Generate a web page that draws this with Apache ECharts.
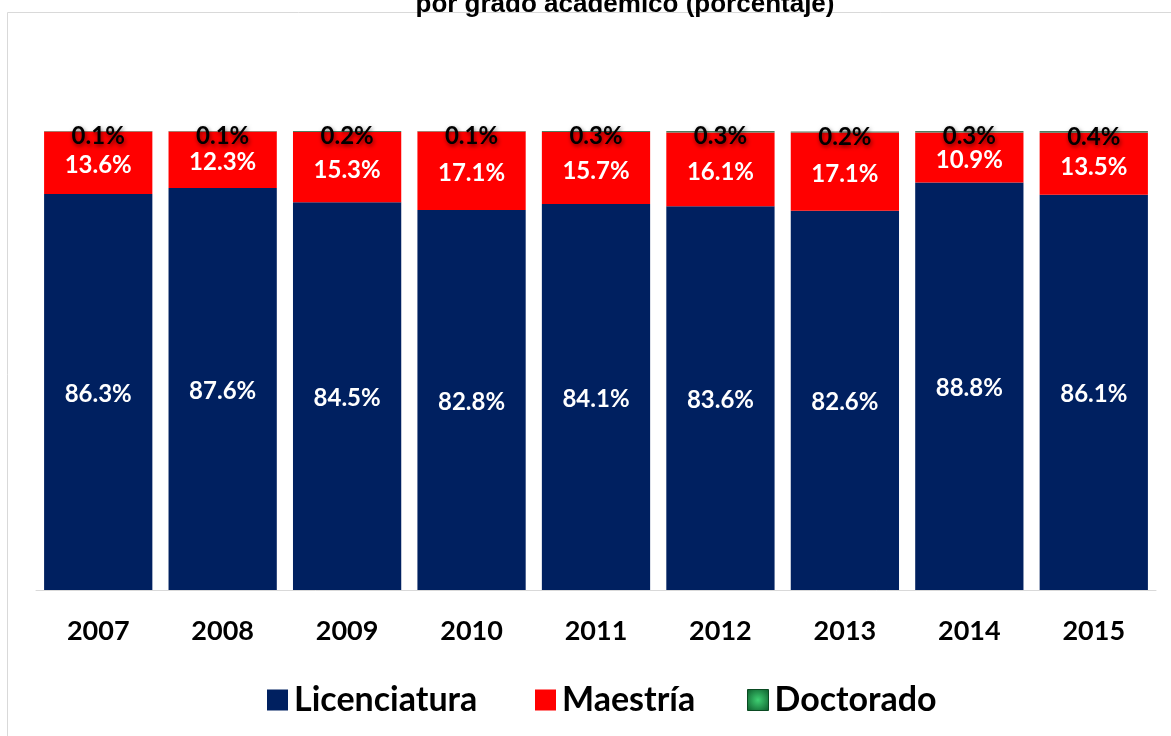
<!DOCTYPE html>
<html>
<head>
<meta charset="utf-8">
<script src="https://cdn.jsdelivr.net/npm/echarts@6/dist/echarts.min.js"></script>
<style>
  html, body { margin: 0; padding: 0; background: #ffffff; }
  #chart { width: 1171px; height: 736px; }
</style>
</head>
<body>
<div id="chart"></div>
<script>
// Años y distribución por grado académico (porcentaje)
const years = ['2007', '2008', '2009', '2010', '2011', '2012', '2013', '2014', '2015'];
const licenciatura = [86.3, 87.6, 84.5, 82.8, 84.1, 83.6, 82.6, 88.8, 86.1];
const maestria = [13.6, 12.3, 15.3, 17.1, 15.7, 16.1, 17.1, 10.9, 13.5];
const doctorado = [0.1, 0.1, 0.2, 0.1, 0.3, 0.3, 0.2, 0.3, 0.4];

const FONT = 'Lato';
const pct = p => p.value.toFixed(1) + '%';

const chart = echarts.init(document.getElementById('chart'), null, { renderer: 'canvas' });

const legendBase = {
  top: 678,
  itemWidth: 21,
  itemHeight: 21,
  icon: 'rect',
  textStyle: { fontFamily: FONT, fontWeight: 'bold', fontSize: 34, color: '#000000', padding: [0, 0, 0, 1] },
  selectedMode: false
};

chart.setOption({
  animation: false,
  backgroundColor: '#ffffff',
  graphic: [
    {
      type: 'rect',
      silent: true,
      shape: { x: 7.5, y: 12.5, width: 1300, height: 900 },
      style: { fill: 'none', stroke: '#d9d9d9', lineWidth: 1 }
    },
    {
      type: 'text',
      silent: true,
      x: 625,
      y: 5,
      style: {
        text: 'por grado académico (porcentaje)',
        fontFamily: 'Liberation Sans',
        fontWeight: 'bold',
        fontSize: 26,
        fill: '#000000',
        align: 'center',
        verticalAlign: 'middle'
      }
    }
  ],
  legend: [
    Object.assign({}, legendBase, { left: 262, data: ['Licenciatura'] }),
    Object.assign({}, legendBase, { left: 530, data: ['Maestría'] }),
    Object.assign({}, legendBase, { left: 742, data: [{
      name: 'Doctorado',
      itemStyle: {
        color: {
          type: 'radial', x: 0.5, y: 0.5, r: 0.7,
          colorStops: [{ offset: 0, color: '#3fcf72' }, { offset: 1, color: '#0b5a2a' }]
        },
        borderColor: '#0a4a22',
        borderWidth: 1
      }
    }] })
  ],
  grid: { left: 36, right: 15, top: 131, bottom: 146 },
  xAxis: {
    type: 'category',
    data: years,
    axisLine: { lineStyle: { color: '#d9d9d9', width: 1 } },
    axisTick: { show: false },
    axisLabel: { fontFamily: FONT, fontWeight: 'bold', fontSize: 27, color: '#000000', margin: 28 }
  },
  yAxis: {
    type: 'value',
    min: 0,
    max: 100,
    show: false,
    splitLine: { show: false }
  },
  series: [
    {
      name: 'Licenciatura',
      type: 'bar',
      stack: 'grado',
      barWidth: '87%',
      data: licenciatura,
      itemStyle: { color: '#002060' },
      label: {
        show: true, position: 'inside', offset: [0, 2], formatter: pct,
        fontFamily: FONT, fontWeight: 'bold', fontSize: 24, color: '#ffffff'
      }
    },
    {
      name: 'Maestría',
      type: 'bar',
      stack: 'grado',
      data: maestria,
      itemStyle: { color: '#ff0000' },
      label: {
        show: true, position: 'inside', offset: [0, 3], formatter: pct,
        fontFamily: FONT, fontWeight: 'bold', fontSize: 24, color: '#ffffff'
      }
    },
    {
      name: 'Doctorado',
      type: 'bar',
      stack: 'grado',
      data: doctorado,
      itemStyle: { color: '#4f7d5f' },
      label: {
        show: true, position: 'inside', offset: [0, 5], formatter: pct,
        fontFamily: FONT, fontWeight: 'bold', fontSize: 24, color: '#000000',
        textShadowColor: 'rgba(0,0,0,0.55)', textShadowBlur: 4,
        textShadowOffsetX: 1, textShadowOffsetY: 2
      }
    }
  ]
});
</script>
</body>
</html>
